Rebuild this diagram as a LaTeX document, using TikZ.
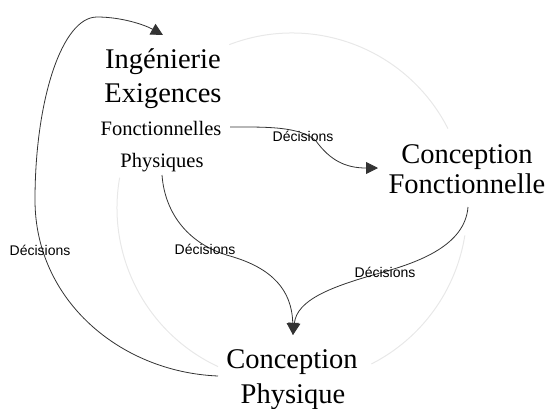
\documentclass[tikz,border=0pt]{standalone}
\usepackage{fontspec}
\setmainfont{Liberation Serif}
\setsansfont{Liberation Sans}
\usetikzlibrary{arrows.meta,calc}
\definecolor{linegray}{HTML}{333333}
\definecolor{ringgray}{HTML}{E8E8E8}
\tikzset{
  bigtxt/.style={anchor=base, inner sep=0pt, font=\fontsize{28.5}{34}\selectfont},
  midtxt/.style={anchor=base, inner sep=0pt, font=\fontsize{20.5}{24}\selectfont},
  declbl/.style={anchor=base, inner sep=0pt, font=\sffamily\fontsize{14}{16}\selectfont, text=black},
  conn/.style={draw=linegray, line width=0.8pt},
  connarr/.style={conn, -{Triangle[length=12pt,width=12pt]}},
  ring/.style={draw=ringgray, line width=1pt}
}
\begin{document}
\begin{tikzpicture}[x=1pt,y=-1pt]
\useasboundingbox (0,0) rectangle (549,408);
% light ring
\coordinate (ctr) at (292,208);
\draw[ring] ($(ctr)+(27:175pt)$) arc[start angle=27, end angle=111, radius=175pt];
\draw[ring] ($(ctr)+(-9:175pt)$) arc[start angle=-9, end angle=-63, radius=175pt];
\draw[ring] ($(ctr)+(170:175pt)$) arc[start angle=170, end angle=245, radius=175pt];
% texts
\node[bigtxt] (ing) at (163,68) {Ingénierie};
\node[bigtxt] (exi) at (163,102) {Exigences};
\node[midtxt] (fon) at (161,135) {Fonctionnelles};
\node[midtxt] (phy) at (162,167) {Physiques};
\node[bigtxt] (cf1) at (467,163) {Conception};
\node[bigtxt] (cf2) at (467,193) {Fonctionnelle};
\node[bigtxt] (cp1) at (292,368) {Conception};
\node[bigtxt] (cp2) at (293,403) {Physique};
% connector end points
\coordinate (topin) at (163,35);
\coordinate (cfin) at (378,168);
\coordinate (cpin) at (293,335);
\coordinate (fonout) at (230,127);
\coordinate (phyout) at (162,175);
\coordinate (cfout) at (468,207);
\coordinate (cpout) at (218,376);
% connectors
\draw[connarr] (cpout) .. controls (120,372) and (35,300) .. (35,200)
  .. controls (35,100) and (62,17) .. (97,17)
  .. controls (122,17) and (145,25) .. (topin);
\draw[connarr] (fonout) .. controls (265,127) and (300,126) .. (316,141)
  .. controls (330,160) and (345,168) .. (cfin);
\draw[connarr] (phyout) .. controls (165,215) and (190,245) .. (230,256)
  .. controls (272,268) and (292,290) .. (cpin);
\draw[connarr] (cfout) .. controls (465,245) and (420,262) .. (380,273)
  .. controls (330,287) and (297,300) .. (cpin);
% labels
\node[declbl] (d1) at (40,255) {Décisions};
\node[declbl] (d2) at (303,141) {Décisions};
\node[declbl] (d3) at (205,254) {Décisions};
\node[declbl] (d4) at (385,277) {Décisions};
\end{tikzpicture}
\end{document}
